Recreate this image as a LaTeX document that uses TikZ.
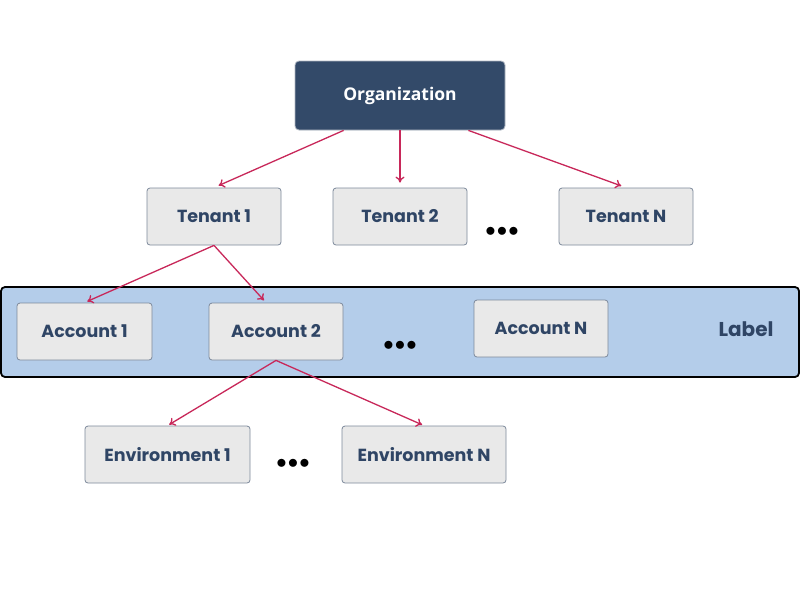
\documentclass[tikz,border=0pt]{standalone}
\usepackage{fontspec}
\setmainfont{Poppins}
\newfontfamily\orgfont{Open Sans}
\usetikzlibrary{arrows.meta,calc}
\definecolor{orgfill}{HTML}{334A69}
\definecolor{boxfill}{HTML}{E9E9E9}
\definecolor{boxline}{HTML}{7D899B}
\definecolor{txt}{HTML}{2F4565}
\definecolor{band}{HTML}{B4CDEA}
\definecolor{arr}{HTML}{C8285A}
\tikzset{
  x=1pt,y=-1pt,
  box/.style={draw=boxline,fill=boxfill,rounded corners=3pt,line width=0.8pt,
     minimum width=134pt,minimum height=57pt,inner sep=0pt,
     font=\fontsize{17.5}{20}\selectfont\bfseries,text=txt},
  orgbox/.style={draw=boxline!60!white,fill=orgfill,rounded corners=4pt,line width=0.8pt,
     minimum width=210pt,minimum height=69pt,inner sep=0pt,
     font=\orgfont\fontsize{17.5}{20}\selectfont\bfseries,text=white},
  conn/.style={draw=arr,line width=1.3pt,-{To[length=6pt,width=9pt]}},
  dots/.style={font=\fontsize{22}{22}\selectfont\bfseries,text=black,inner sep=0pt}
}
\begin{document}
\begin{tikzpicture}
\useasboundingbox (0,0) rectangle (800,600);
\fill[white] (0,0) rectangle (800,600);
% band
\node[draw=black,fill=band,line width=1.8pt,rounded corners=4pt,minimum width=798pt,minimum height=90pt,inner sep=0pt] (band) at (400,332) {};
\node[font=\fontsize{20}{22}\selectfont\bfseries,text=txt] (lbl) at (746,329) {Label};
% nodes
\node[orgbox] (org) at (400,95.5) {Organization};
\node[box] (t1) at (214,216.5) {Tenant 1};
\node[box] (t2) at (400,216.5) {Tenant 2};
\node[box] (tn) at (626,216.5) {Tenant N};
\node[box,minimum width=135pt] (a1) at (84.5,331.5) {Account 1};
\node[box] (a2) at (276,331.5) {Account 2};
\node[box] (an) at (541,328.5) {Account N};
\node[box,minimum width=165pt] (e1) at (167.5,454.5) {Environment 1};
\node[box,minimum width=164pt] (en) at (424,454.5) {Environment N};
% dots
\node[dots] (d1) at (502,232) {$\bullet\!\bullet\!\bullet$};
\node[dots] (d2) at (400,346) {$\bullet\!\bullet\!\bullet$};
\node[dots] (d3) at (293,464) {$\bullet\!\bullet\!\bullet$};
% connectors
\draw[conn,shorten >=5pt] ([xshift=49pt]org.south west) -- (t1.north);
\draw[conn,shorten >=5pt] (org.south) -- (t2.north);
\draw[conn,shorten >=5pt] ([xshift=-37pt]org.south east) -- (tn.north);
\draw[conn,shorten >=3pt] (t1.south) -- (a1.north);
\draw[conn,shorten >=3pt] (t1.south) -- ([xshift=-10pt]a2.north);
\draw[conn,shorten >=2pt] (a2.south) -- (e1.north);
\draw[conn,shorten >=2pt] (a2.south) -- (en.north);
\end{tikzpicture}
\end{document}
